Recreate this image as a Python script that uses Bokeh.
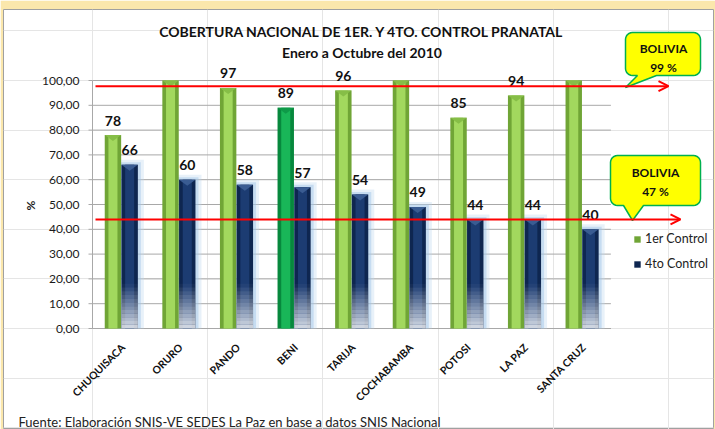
import numpy as np
from bokeh.plotting import figure
from bokeh.models import Legend, LegendItem, Arrow, OpenHead
from bokeh.core.properties import value
from bokeh.embed import file_html
from bokeh.resources import INLINE

# ---------------- data ----------------
provinces = ["CHUQUISACA", "ORURO", "PANDO", "BENI", "TARIJA",
             "COCHABAMBA", "POTOSI", "LA PAZ", "SANTA CRUZ"]
control_1er = [78, 104, 97, 89, 96, 108, 85, 94, 102]   # >100 values are clipped in the source
control_4to = [66, 60, 58, 57, 54, 49, 44, 44, 40]
highlight_province = "BENI"
series_names = ["1er Control", "4to Control"]
y_ticks = [0, 10, 20, 30, 40, 50, 60, 70, 80, 90, 100]
y_tick_labels = ["0,00", "10,00", "20,00", "30,00", "40,00", "50,00",
                 "60,00", "70,00", "80,00", "90,00", "100,00"]
bolivia_1er_line = 97.7
bolivia_4to_line = 44.0
bolivia_1er_text = ["BOLIVIA", "99 %"]
bolivia_4to_text = ["BOLIVIA", "47 %"]
title_line1 = "COBERTURA NACIONAL DE 1ER. Y 4TO. CONTROL PRANATAL"
title_line2 = "Enero a Octubre del 2010"
source_note = "Fuente: Elaboración SNIS-VE SEDES La Paz en base a datos SNIS Nacional"
y_axis_title = "%"

# ---------------- geometry (page pixels -> data) ----------------
W, H = 715, 429
FL, FT, FR, FB = 3, 9, 713, 429   # white chart area on the page
X0, XS = 92.0, 57.6      # page x of category axis start, px per category
Y0, YS = 328.0, 2.48     # page y of value 0, px per unit
Y_MAX = 100


def dx(px):
    return (px - X0) / XS


def dy(py):
    return (Y0 - py) / YS


FONT = value("Lato")

p = figure(width=W, height=H,
           x_range=(dx(FL), dx(FR)), y_range=(dy(FB), dy(FT)),
           x_axis_location=None, y_axis_location=None,
           toolbar_location=None, output_backend="svg",
           min_border_left=FL, min_border_top=FT,
           min_border_right=W - FR, min_border_bottom=H - FB,
           outline_line_color="#A0A0A0",
           background_fill_color="white", border_fill_color="#FBE7AC")

n = len(provinces)
xc = np.arange(n) + 0.5
bw = 0.285
off = 0.145
gx = xc - off
bx = xc + off
top1 = np.minimum(np.array(control_1er, float), Y_MAX)
top4 = np.minimum(np.array(control_4to, float), Y_MAX)

# ---------------- grid and axes ----------------
yt = np.array(y_ticks, float)
p.segment(x0=np.zeros_like(yt), y0=yt, x1=np.full_like(yt, n), y1=yt,
          line_color="#A8A8A8", line_width=1)
p.segment(x0=np.full_like(yt, dx(88)), y0=yt, x1=np.zeros_like(yt), y1=yt,
          line_color="#A8A8A8", line_width=1)
p.segment(x0=[0], y0=[0], x1=[0], y1=[Y_MAX], line_color="#A8A8A8", line_width=1)
p.segment(x0=[0], y0=[0], x1=[n], y1=[0], line_color="#A8A8A8", line_width=1)

p.text(x=np.full_like(yt, dx(79)), y=yt, text=y_tick_labels,
       text_font=FONT, text_font_size="12px", text_color="#1A1A1A",
       text_align="right", text_baseline="middle")
p.text(x=[dx(30)], y=[dy(205)], text=[y_axis_title], angle=np.pi / 2,
       text_font=FONT, text_font_style="bold", text_font_size="12px",
       text_align="center", text_baseline="middle", text_color="#1A1A1A")

# category labels
p.text(x=xc + 0.03, y=np.full(n, dy(345)), text=provinces, angle=np.pi / 4,
       text_font=FONT, text_font_style="bold", text_font_size="10.5px",
       text_align="right", text_baseline="middle", text_color="#111111")

# ---------------- bars ----------------
# glow behind blue bars
p.vbar(x=bx, width=bw + 12 / XS, top=top4 + 5 / YS, bottom=0,
       fill_color="#BDD7EE", fill_alpha=0.35, line_color=None)
p.vbar(x=bx, width=bw + 6 / XS, top=top4 + 2.5 / YS, bottom=0,
       fill_color="#9DC3E6", fill_alpha=0.45, line_color=None)

g_edge = ["#07883D" if pr == highlight_province else "#70A536" for pr in provinces]
g_mid = ["#19B658" if pr == highlight_province else "#A2D85E" for pr in provinces]
g_cap = ["#0E9A48" if pr == highlight_province else "#86BE47" for pr in provinces]

green = p.vbar(x=gx, width=bw, top=top1, bottom=0,
               fill_color=g_edge, line_color=None)
p.vbar(x=gx, width=bw * 0.55, top=top1, bottom=0,
       fill_color=g_mid, line_color=None)

blue = p.vbar(x=bx, width=bw, top=top4, bottom=0,
              fill_color="#0E2650", line_color=None)
p.vbar(x=bx, width=bw * 0.55, top=top4, bottom=0,
       fill_color="#1C3C72", line_color=None)

# light fade at the base of the blue bars
fade_h = 18.0
steps = 12
for k in range(steps):
    b = fade_h * k / steps
    t = fade_h * (k + 1) / steps
    a = 0.82 * (1 - (k + 0.5) / steps)
    p.vbar(x=bx, width=bw, bottom=b, top=np.minimum(t, top4),
           fill_color="white", fill_alpha=a, line_color=None)

# top bevel caps
cap_h = 6 / YS
p.patches(xs=[[x - bw / 2, x + bw / 2, x] for x in gx],
          ys=[[t, t, t - cap_h] for t in top1],
          fill_color=g_cap, line_color=None)
p.patches(xs=[[x - bw / 2, x + bw / 2, x] for x in bx],
          ys=[[t, t, t - cap_h] for t in top4],
          fill_color="#3A5C92", line_color=None)

# ---------------- value labels ----------------
lab_off = 14.5 / YS
m1 = np.array(control_1er) <= Y_MAX
p.text(x=gx[m1], y=np.array(control_1er, float)[m1] + lab_off,
       text=[str(v) for v in np.array(control_1er)[m1]],
       text_font=FONT, text_font_style="bold", text_font_size="14px",
       text_align="center", text_baseline="middle", text_color="#111111")
m4 = np.array(control_4to) <= Y_MAX
p.text(x=bx[m4], y=np.array(control_4to, float)[m4] + lab_off,
       text=[str(v) for v in np.array(control_4to)[m4]],
       text_font=FONT, text_font_style="bold", text_font_size="14px",
       text_align="center", text_baseline="middle", text_color="#111111")

# ---------------- national reference arrows ----------------
for yv, xe in [(bolivia_1er_line, 668), (bolivia_4to_line, 680)]:
    p.add_layout(Arrow(x_start=dx(95), y_start=yv, x_end=dx(xe), y_end=yv,
                       line_color="#FF0000", line_width=2,
                       end=OpenHead(size=10, line_color="#FF0000", line_width=2)))


def callout(l, t, r, b, rad, tb0, tb1, tip):
    pts = []

    def arc(cx, cy, a0, a1):
        for a in np.linspace(np.radians(a0), np.radians(a1), 7):
            pts.append((cx + rad * np.cos(a), cy + rad * np.sin(a)))

    arc(l + rad, t + rad, 180, 270)
    arc(r - rad, t + rad, 270, 360)
    arc(r - rad, b - rad, 0, 90)
    pts.append((tb1, b))
    pts.append(tip)
    pts.append((tb0, b))
    arc(l + rad, b - rad, 90, 180)
    return [dx(x) for x, _ in pts], [dy(y) for _, y in pts]


c1 = callout(625, 32, 700, 75, 7, 637, 656, (625, 87))
c2 = callout(610, 155, 700, 205, 7, 623, 643, (632, 220))
p.patches(xs=[c1[0], c2[0]], ys=[c1[1], c2[1]],
          fill_color="#FFFF00", line_color="#00B050", line_width=1.5)
p.text(x=[dx(663), dx(663), dx(655), dx(655)],
       y=[dy(48), dy(67), dy(172), dy(191)],
       text=bolivia_1er_text + bolivia_4to_text,
       text_font=FONT, text_font_style="bold", text_font_size="12px",
       text_align="center", text_baseline="middle", text_color="#111111")

# ---------------- titles and note ----------------
p.text(x=[dx(361.5), dx(361.5)], y=[dy(31), dy(52)], text=[title_line1, title_line2],
       text_font=FONT, text_font_style="bold", text_font_size="14px",
       text_align="center", text_baseline="middle", text_color="#111111")
p.text(x=[dx(18)], y=[dy(421)], text=[source_note],
       text_font=FONT, text_font_size="13px",
       text_align="left", text_baseline="middle", text_color="#222222")

# ---------------- legend ----------------
legend = Legend(items=[LegendItem(label=series_names[0], renderers=[green], index=0),
                       LegendItem(label=series_names[1], renderers=[blue], index=0)],
                location=(630, 158), orientation="vertical",
                glyph_width=8, glyph_height=8, label_height=13, spacing=10,
                padding=0, margin=0, border_line_color=None, background_fill_alpha=0,
                label_text_font="Lato", label_text_font_size="12.5px",
                label_text_color="#222222", label_standoff=4)
p.add_layout(legend)

open("out.html", "w").write(file_html(p, INLINE))
